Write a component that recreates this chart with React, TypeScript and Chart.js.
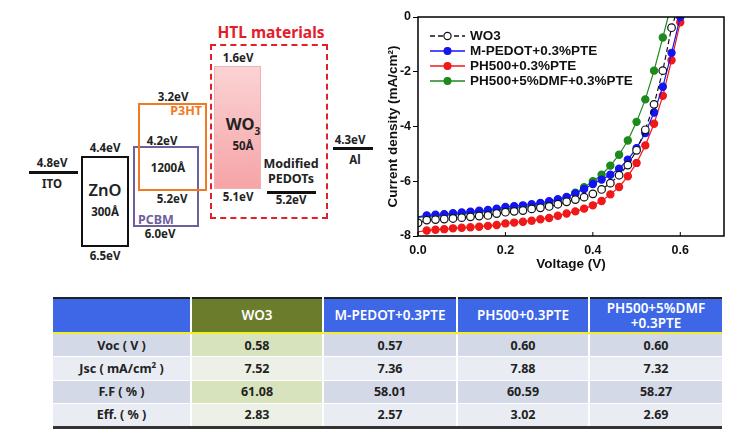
import React, { useEffect, useRef } from "react";
import { Chart, registerables } from "chart.js";
Chart.register(...registerables);

// ---------- J-V data ----------
const voltage = [0, 0.02, 0.04, 0.06, 0.08, 0.1, 0.12, 0.14, 0.16, 0.18, 0.2, 0.22, 0.24, 0.26, 0.28, 0.3, 0.32, 0.34, 0.36, 0.38, 0.4, 0.42, 0.44, 0.46, 0.48, 0.5, 0.52, 0.54, 0.56, 0.58, 0.6];
const jWO3 = [-7.52, -7.42, -7.40, -7.38, -7.36, -7.33, -7.30, -7.27, -7.25, -7.18, -7.13, -7.10, -7.07, -7.01, -6.97, -6.92, -6.84, -6.75, -6.67, -6.58, -6.46, -6.30, -6.07, -5.78, -5.41, -4.87, -4.12, -3.19, -1.96, -0.39, null];
const jMPEDOT = [-7.30, -7.25, -7.22, -7.20, -7.17, -7.14, -7.11, -7.08, -7.05, -7.00, -6.94, -6.91, -6.88, -6.84, -6.79, -6.73, -6.66, -6.57, -6.45, -6.28, -6.10, -5.94, -5.76, -5.54, -5.21, -4.79, -4.24, -3.49, -2.55, -1.31, 0];
const jPH500 = [-7.85, -7.80, -7.77, -7.75, -7.72, -7.70, -7.68, -7.66, -7.63, -7.60, -7.54, -7.51, -7.48, -7.44, -7.39, -7.34, -7.26, -7.18, -7.10, -7.00, -6.88, -6.72, -6.48, -6.21, -5.82, -5.33, -4.69, -3.90, -2.88, -1.58, -0.19];
const jDMF = [-7.32, -7.29, -7.27, -7.25, -7.22, -7.19, -7.16, -7.13, -7.10, -7.06, -7.02, -6.98, -6.95, -6.91, -6.86, -6.80, -6.71, -6.60, -6.42, -6.22, -6.00, -5.76, -5.43, -5.03, -4.51, -3.83, -3.01, -1.96, -0.75, null, null];
const vocWO3Line = 0.588;
const vocDMFLine = 0.572;
const seriesNames = ["WO3", "M-PEDOT+0.3%PTE", "PH500+0.3%PTE", "PH500+5%DMF+0.3%PTE"];
const xTicks = [0, 0.2, 0.4, 0.6];
const yTicks = [0, -2, -4, -6, -8];

// ---------- table data ----------
const tableHeaders = ["", "WO3", "M-PEDOT+0.3PTE", "PH500+0.3PTE", "PH500+5%DMF\n+0.3PTE"];
const rowLabels = ["Voc ( V )", "Jsc ( mA/cm² )", "F.F ( % )", "Eff. ( % )"];
const vocValues = ["0.58", "0.57", "0.60", "0.60"];
const jscValues = ["7.52", "7.36", "7.88", "7.32"];
const ffValues = ["61.08", "58.01", "60.59", "58.27"];
const effValues = ["2.83", "2.57", "3.02", "2.69"];

const colors = ["#111111", "#1414f0", "#f01818", "#1c8a1c"];

function pts(arr: (number | null)[], endX?: number) {
  const out: { x: number; y: number }[] = [];
  voltage.forEach((v, i) => {
    const y = arr[i];
    if (y !== null && y !== undefined) out.push({ x: v, y });
  });
  if (endX !== undefined) out.push({ x: endX, y: 0 });
  return out;
}

const JVChart: React.FC = () => {
  const ref = useRef<HTMLCanvasElement>(null);
  useEffect(() => {
    if (!ref.current) return;
    const datasets: any[] = [
      { label: seriesNames[0], data: pts(jWO3, vocWO3Line), borderColor: colors[0], backgroundColor: "#ffffff", borderDash: [5, 3], borderWidth: 1.2, pointBorderWidth: 1.2, pointBorderColor: colors[0] },
      { label: seriesNames[1], data: pts(jMPEDOT), borderColor: colors[1], backgroundColor: colors[1], borderWidth: 1.2, pointBorderColor: colors[1] },
      { label: seriesNames[2], data: pts(jPH500), borderColor: colors[2], backgroundColor: colors[2], borderWidth: 1.2, pointBorderColor: colors[2] },
      { label: seriesNames[3], data: pts(jDMF, vocDMFLine), borderColor: colors[3], backgroundColor: colors[3], borderWidth: 1.2, pointBorderColor: colors[3] },
    ];
    datasets.forEach((d, di) => {
      d.pointBackgroundColor = d.backgroundColor;
      d.tension = 0;
      d.pointRadius = (ctx: any) => {
        const n = ctx.dataset.data.length;
        if ((di === 0 || di === 3) && ctx.dataIndex === n - 1) return 0;
        if (di !== 0 && ctx.dataIndex === 0) return 0;
        return di === 0 ? 3.8 : 3.6;
      };
    });

    const framePlugin = {
      id: "frame",
      afterDraw(chart: any) {
        const { ctx, chartArea: a, scales } = chart;
        ctx.save();
        ctx.strokeStyle = "#000";
        ctx.lineWidth = 1.5;
        ctx.strokeRect(a.left, a.top, a.right - a.left, a.bottom - a.top);
        ctx.lineWidth = 1;
        xTicks.forEach((t) => {
          const x = scales.x.getPixelForValue(t);
          ctx.beginPath();
          ctx.moveTo(x, a.bottom);
          ctx.lineTo(x, a.bottom - 4);
          ctx.stroke();
        });
        const lx0 = 60, lx1 = 95, tx = 100;
        ctx.font = "bold 13.5px 'Liberation Sans', Arial, sans-serif";
        ctx.textBaseline = "middle";
        chart.data.datasets.forEach((d: any, i: number) => {
          const y = 36 + i * 15;
          ctx.strokeStyle = d.borderColor;
          ctx.lineWidth = 1.3;
          ctx.setLineDash(i === 0 ? [5, 3] : []);
          ctx.beginPath();
          ctx.moveTo(lx0, y);
          ctx.lineTo(lx1, y);
          ctx.stroke();
          ctx.setLineDash([]);
          ctx.beginPath();
          ctx.arc((lx0 + lx1) / 2, y, i === 0 ? 3.6 : 3.4, 0, Math.PI * 2);
          ctx.fillStyle = i === 0 ? "#fff" : d.borderColor;
          ctx.fill();
          ctx.lineWidth = 1.2;
          ctx.stroke();
          ctx.fillStyle = "#111";
          ctx.fillText(d.label, tx, y + 0.5);
        });
        ctx.restore();
      },
    };

    const chart = new Chart(ref.current, {
      type: "line",
      data: { datasets },
      plugins: [framePlugin],
      options: {
        animation: false,
        responsive: false,
        maintainAspectRatio: false,
        layout: { padding: { top: 17, right: 22, left: 0, bottom: 0 } },
        plugins: { legend: { display: false }, tooltip: { enabled: false } },
        scales: {
          x: {
            type: "linear",
            min: 0,
            max: 0.7,
            afterFit: (s: any) => { s.height = 39; },
            afterBuildTicks: (s: any) => { s.ticks = xTicks.map((v) => ({ value: v })); },
            ticks: { font: { family: "'Liberation Sans', Arial", size: 12.5, weight: "bold" }, color: "#111", padding: 7, callback: (v: any) => Number(v).toFixed(1), maxRotation: 0 },
            grid: { display: true, drawOnChartArea: false, drawTicks: false, tickLength: 0 },
            border: { display: false },
            title: { display: true, text: "Voltage (V)", font: { family: "'Liberation Sans', Arial", size: 13.5, weight: "bold" }, color: "#111", padding: { top: 0, bottom: 3 } },
          },
          y: {
            type: "linear",
            min: -8,
            max: 0,
            afterFit: (s: any) => { s.width = 48; },
            afterBuildTicks: (s: any) => { s.ticks = yTicks.map((v) => ({ value: v })); },
            ticks: { font: { family: "'Liberation Sans', Arial", size: 12.5, weight: "bold" }, color: "#111", padding: 2 },
            grid: { display: true, drawOnChartArea: false, drawTicks: true, tickLength: 5, color: "#000", lineWidth: 1 },
            border: { display: false },
            title: { display: true, text: "Current density (mA/cm²)", font: { family: "'Liberation Sans', Arial", size: 13.5, weight: "bold" }, color: "#111", padding: { top: 15, bottom: 0 } },
          },
        },
      } as any,
    });
    return () => chart.destroy();
  }, []);
  return <canvas ref={ref} width={376} height={275} style={{ position: "absolute", left: 370, top: 0, width: 376, height: 275 }} />;
};

const F = "'Noto Sans', 'Open Sans', sans-serif";

const Lbl: React.FC<{ x: number; y: number; size?: number; color?: string; weight?: number; children: React.ReactNode; align?: string }> = ({ x, y, size = 11.5, color = "#222", weight = 700, children, align = "center" }) => (
  <div
    style={{
      position: "absolute",
      left: x,
      top: y,
      transform: align === "center" ? "translate(-50%,-50%)" : align === "right" ? "translate(-100%,-50%)" : "translate(0,-50%)",
      fontFamily: F,
      fontSize: size,
      fontWeight: weight,
      color,
      whiteSpace: "nowrap",
      lineHeight: 1.1,
      textAlign: "center",
    }}
  >
    {children}
  </div>
);

const Box: React.FC<{ l: number; t: number; r: number; b: number; style?: React.CSSProperties }> = ({ l, t, r, b, style }) => (
  <div style={{ position: "absolute", left: l, top: t, width: r - l, height: b - t, boxSizing: "border-box", ...style }} />
);

const EnergyDiagram: React.FC = () => (
  <>
    <Box l={29} t={171} r={78} b={174} style={{ background: "#111" }} />
    <Lbl x={52} y={163}>4.8eV</Lbl>
    <Lbl x={52} y={184}>ITO</Lbl>
    <Box l={81} t={156} r={129} b={247} style={{ border: "2px solid #111" }} />
    <Lbl x={105} y={148}>4.4eV</Lbl>
    <Lbl x={105} y={190} size={16.5} weight={600}>ZnO</Lbl>
    <Lbl x={105} y={212}>300Å</Lbl>
    <Lbl x={105} y={256}>6.5eV</Lbl>
    <Box l={133} t={146} r={199} b={227} style={{ border: "2px solid #6f5f9c" }} />
    <Lbl x={138} y={220} size={12.5} color="#6f5f9c" align="left">PCBM</Lbl>
    <Lbl x={160} y={234}>6.0eV</Lbl>
    <Box l={138} t={103} r={207} b={191} style={{ border: "2.5px solid #f07a22" }} />
    <Lbl x={202} y={111} size={12.5} color="#f07a22" align="right">P3HT</Lbl>
    <Lbl x={173} y={97}>3.2eV</Lbl>
    <Lbl x={162} y={141}>4.2eV</Lbl>
    <Lbl x={168} y={168}>1200Å</Lbl>
    <Lbl x={172} y={199}>5.2eV</Lbl>
    <Box l={210} t={44} r={328} b={219} style={{ border: "2px dashed #e3202a" }} />
    <Lbl x={271} y={33} size={15.5} color="#e3202a">HTL materials</Lbl>
    <Box l={214} t={66} r={261} b={189} style={{ background: "linear-gradient(#fbd3d4, #f6a4a7)", border: "1px solid #f0b0b4" }} />
    <Lbl x={238} y={58}>1.6eV</Lbl>
    <Lbl x={243} y={126} size={16.5} weight={700}>
      WO<sub style={{ fontSize: 10 }}>3</sub>
    </Lbl>
    <Lbl x={243} y={146}>50Å</Lbl>
    <Lbl x={238} y={197}>5.1eV</Lbl>
    <Lbl x={291} y={164} size={12.5}>Modified</Lbl>
    <Lbl x={291} y={179} size={12.5}>PEDOTs</Lbl>
    <Box l={267} t={191} r={316} b={194} style={{ background: "#111" }} />
    <Lbl x={291} y={200}>5.2eV</Lbl>
    <Box l={333} t={147} r={373} b={150} style={{ background: "#111" }} />
    <Lbl x={350} y={140}>4.3eV</Lbl>
    <Lbl x={355} y={160}>Al</Lbl>
  </>
);

const colWidths = [138, 132, 134, 132, 133];

const ResultTable: React.FC = () => {
  const rows = [vocValues, jscValues, ffValues, effValues];
  return (
    <table
      style={{
        position: "absolute",
        left: 53,
        top: 297,
        width: 669,
        borderCollapse: "collapse",
        tableLayout: "fixed",
        fontFamily: F,
        borderTop: "2px solid #222",
        borderBottom: "3px solid #333",
      }}
    >
      <colgroup>
        {colWidths.map((w, i) => (
          <col key={i} style={{ width: w }} />
        ))}
      </colgroup>
      <thead>
        <tr style={{ height: 35 }}>
          {tableHeaders.map((h, i) => (
            <th
              key={i}
              style={{
                background: i === 1 ? "#6b7c2c" : "#3d67e6",
                color: "#fff",
                fontSize: 13.5,
                fontWeight: 600,
                padding: 0,
                lineHeight: "15px",
                borderLeft: i > 0 ? "2px solid #fff" : "none",
                borderBottom: "2px solid #f2ee2a",
                whiteSpace: "pre-line",
              }}
            >
              {h}
            </th>
          ))}
        </tr>
      </thead>
      <tbody>
        {rowLabels.map((lab, r) => (
          <tr key={r} style={{ height: 23.5 }}>
            <td style={{ background: r % 2 === 0 ? "#d3d9e6" : "#e9ecf3", textAlign: "center", fontSize: 12.5, fontWeight: 700, color: "#222", padding: 0, borderTop: r > 0 ? "1px solid #fff" : "none" }}>
              {lab.includes("²") ? (
                <>Jsc ( mA/cm<sup style={{ fontSize: 8 }}>2</sup> )</>
              ) : (
                lab
              )}
            </td>
            {rows[r].map((v, c) => (
              <td
                key={c}
                style={{
                  background: c === 0 ? (r % 2 === 0 ? "#d7e3bd" : "#ecf0e6") : r % 2 === 0 ? "#d3d9e6" : "#e9ecf3",
                  textAlign: "center",
                  fontSize: 12.5,
                  fontWeight: 700,
                  color: "#222",
                  padding: 0,
                  borderLeft: "2px solid #fff",
                  borderTop: r > 0 ? "1px solid #fff" : "none",
                }}
              >
                {v}
              </td>
            ))}
          </tr>
        ))}
      </tbody>
    </table>
  );
};

export default function App() {
  return (
    <div style={{ position: "absolute", left: 0, top: 0, width: 746, height: 439, background: "#fff", overflow: "hidden" }}>
      <EnergyDiagram />
      <JVChart />
      <ResultTable />
    </div>
  );
}
